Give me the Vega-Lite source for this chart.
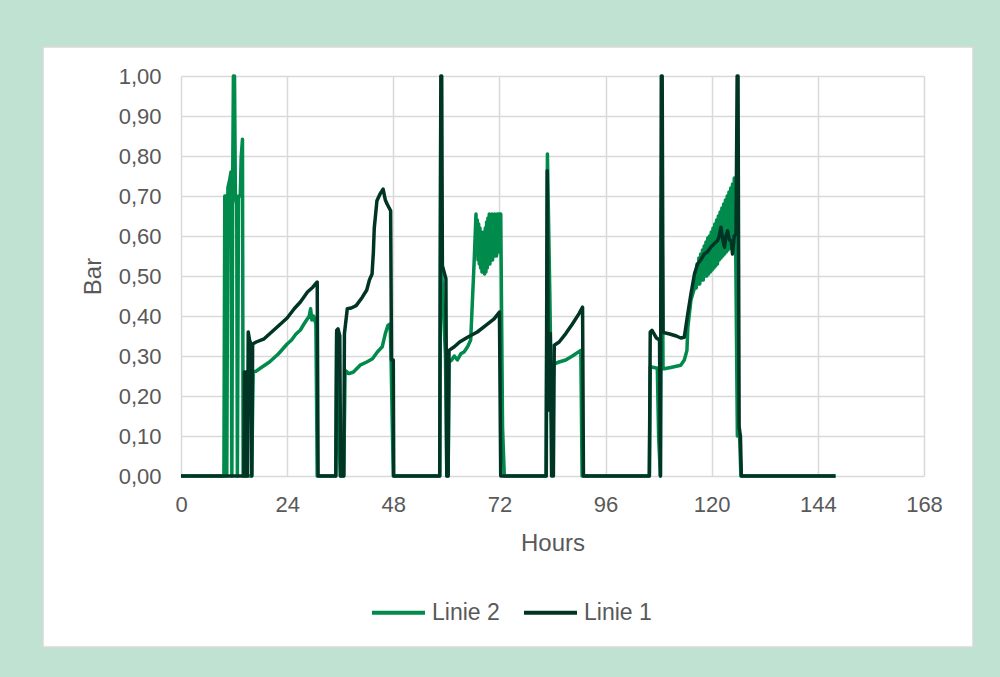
{
  "$schema": "https://vega.github.io/schema/vega-lite/v6.json",
  "width": 930,
  "height": 600,
  "autosize": "none",
  "padding": {"left": 43, "top": 47, "right": 27, "bottom": 30},
  "background": "#C0E2D3",
  "config": {
    "view": {"fill": "#FFFFFF", "stroke": "#D9D9D9", "strokeWidth": 1.5},
    "font": "Liberation Sans",
    "axis": {"labelFont": "Liberation Sans", "titleFont": "Liberation Sans"},
    "legend": {"labelFont": "Liberation Sans"}
  },
  "datasets": {
    "l2": [
      {"s":"Linie 2","h":0,"v":0},{"s":"Linie 2","h":9.7,"v":0},{"s":"Linie 2","h":9.9,"v":0.70},{"s":"Linie 2","h":10.2,"v":0.70},{"s":"Linie 2","h":10.35,"v":0},{"s":"Linie 2","h":10.6,"v":0.72},{"s":"Linie 2","h":11.0,"v":0.74},{"s":"Linie 2","h":11.3,"v":0.76},{"s":"Linie 2","h":11.5,"v":0},{"s":"Linie 2","h":11.7,"v":0.76},{"s":"Linie 2","h":11.85,"v":1.0},{"s":"Linie 2","h":12.1,"v":1.0},{"s":"Linie 2","h":12.3,"v":0.70},{"s":"Linie 2","h":12.6,"v":0.68},{"s":"Linie 2","h":12.75,"v":0},{"s":"Linie 2","h":13.0,"v":0.70},{"s":"Linie 2","h":13.4,"v":0.70},{"s":"Linie 2","h":13.6,"v":0.796},{"s":"Linie 2","h":13.9,"v":0.842},{"s":"Linie 2","h":14.05,"v":0},
      {"s":"Linie 2","h":16.0,"v":0},{"s":"Linie 2","h":16.3,"v":0.26},{"s":"Linie 2","h":17.0,"v":0.262},{"s":"Linie 2","h":18.0,"v":0.27},{"s":"Linie 2","h":20.0,"v":0.285},{"s":"Linie 2","h":22.0,"v":0.305},{"s":"Linie 2","h":24.0,"v":0.33},{"s":"Linie 2","h":25.0,"v":0.34},{"s":"Linie 2","h":26.0,"v":0.355},{"s":"Linie 2","h":27.0,"v":0.365},{"s":"Linie 2","h":27.8,"v":0.38},{"s":"Linie 2","h":28.4,"v":0.39},{"s":"Linie 2","h":29.0,"v":0.40},{"s":"Linie 2","h":29.3,"v":0.418},{"s":"Linie 2","h":29.6,"v":0.39},{"s":"Linie 2","h":30.0,"v":0.40},{"s":"Linie 2","h":30.5,"v":0.38},{"s":"Linie 2","h":30.8,"v":0},
      {"s":"Linie 2","h":35.0,"v":0},{"s":"Linie 2","h":35.2,"v":0.36},{"s":"Linie 2","h":35.7,"v":0.115},{"s":"Linie 2","h":36.0,"v":0},{"s":"Linie 2","h":36.8,"v":0},{"s":"Linie 2","h":37.1,"v":0.264},{"s":"Linie 2","h":38.0,"v":0.256},{"s":"Linie 2","h":39.0,"v":0.26},{"s":"Linie 2","h":40.5,"v":0.277},{"s":"Linie 2","h":42.0,"v":0.285},{"s":"Linie 2","h":43.3,"v":0.293},{"s":"Linie 2","h":44.4,"v":0.31},{"s":"Linie 2","h":45.5,"v":0.323},{"s":"Linie 2","h":46.2,"v":0.356},{"s":"Linie 2","h":46.8,"v":0.377},{"s":"Linie 2","h":47.3,"v":0.38},{"s":"Linie 2","h":47.5,"v":0.29},{"s":"Linie 2","h":48.0,"v":0},
      {"s":"Linie 2","h":58.5,"v":0},{"s":"Linie 2","h":58.75,"v":0.95},{"s":"Linie 2","h":59.0,"v":0.5},{"s":"Linie 2","h":59.8,"v":0.3},{"s":"Linie 2","h":60.1,"v":0},{"s":"Linie 2","h":60.4,"v":0},{"s":"Linie 2","h":60.6,"v":0.285},{"s":"Linie 2","h":61.2,"v":0.29},{"s":"Linie 2","h":61.8,"v":0.30},{"s":"Linie 2","h":62.5,"v":0.29},{"s":"Linie 2","h":63.3,"v":0.306},{"s":"Linie 2","h":64.0,"v":0.31},{"s":"Linie 2","h":64.8,"v":0.323},{"s":"Linie 2","h":65.5,"v":0.34},{"s":"Linie 2","h":65.9,"v":0.44},{"s":"Linie 2","h":66.3,"v":0.54},
      {"s":"Linie 2","h":66.7,"v":0.655},{"s":"Linie 2","h":66.85,"v":0.56},{"s":"Linie 2","h":67.0,"v":0.64},{"s":"Linie 2","h":67.15,"v":0.54},{"s":"Linie 2","h":67.3,"v":0.63},{"s":"Linie 2","h":67.45,"v":0.53},{"s":"Linie 2","h":67.6,"v":0.62},{"s":"Linie 2","h":67.75,"v":0.52},{"s":"Linie 2","h":67.9,"v":0.61},{"s":"Linie 2","h":68.05,"v":0.51},{"s":"Linie 2","h":68.2,"v":0.60},{"s":"Linie 2","h":68.35,"v":0.51},{"s":"Linie 2","h":68.5,"v":0.61},{"s":"Linie 2","h":68.65,"v":0.505},{"s":"Linie 2","h":68.8,"v":0.62},{"s":"Linie 2","h":68.95,"v":0.51},{"s":"Linie 2","h":69.1,"v":0.635},{"s":"Linie 2","h":69.25,"v":0.52},{"s":"Linie 2","h":69.4,"v":0.645},{"s":"Linie 2","h":69.55,"v":0.53},{"s":"Linie 2","h":69.7,"v":0.655},{"s":"Linie 2","h":69.85,"v":0.53},{"s":"Linie 2","h":70.0,"v":0.645},{"s":"Linie 2","h":70.15,"v":0.54},{"s":"Linie 2","h":70.3,"v":0.655},{"s":"Linie 2","h":70.45,"v":0.54},{"s":"Linie 2","h":70.6,"v":0.65},{"s":"Linie 2","h":70.75,"v":0.55},{"s":"Linie 2","h":70.9,"v":0.655},{"s":"Linie 2","h":71.05,"v":0.55},{"s":"Linie 2","h":71.2,"v":0.65},{"s":"Linie 2","h":71.35,"v":0.55},{"s":"Linie 2","h":71.5,"v":0.655},{"s":"Linie 2","h":71.65,"v":0.56},{"s":"Linie 2","h":71.8,"v":0.655},{"s":"Linie 2","h":71.95,"v":0.56},{"s":"Linie 2","h":72.1,"v":0.655},{"s":"Linie 2","h":72.3,"v":0.655},{"s":"Linie 2","h":72.7,"v":0.123},{"s":"Linie 2","h":73.1,"v":0},
      {"s":"Linie 2","h":82.6,"v":0},{"s":"Linie 2","h":82.85,"v":0.805},{"s":"Linie 2","h":83.4,"v":0.45},{"s":"Linie 2","h":83.8,"v":0.14},{"s":"Linie 2","h":84.3,"v":0.28},{"s":"Linie 2","h":85.5,"v":0.285},{"s":"Linie 2","h":87.0,"v":0.29},{"s":"Linie 2","h":88.5,"v":0.30},{"s":"Linie 2","h":90.4,"v":0.314},{"s":"Linie 2","h":90.7,"v":0},
      {"s":"Linie 2","h":105.9,"v":0},{"s":"Linie 2","h":106.1,"v":0.273},{"s":"Linie 2","h":107.5,"v":0.27},{"s":"Linie 2","h":107.7,"v":0.27},{"s":"Linie 2","h":108.0,"v":0.098},{"s":"Linie 2","h":108.4,"v":0},{"s":"Linie 2","h":108.7,"v":0.8},{"s":"Linie 2","h":109.0,"v":0.268},{"s":"Linie 2","h":109.3,"v":0.268},{"s":"Linie 2","h":111.0,"v":0.272},{"s":"Linie 2","h":113.0,"v":0.277},{"s":"Linie 2","h":113.8,"v":0.29},{"s":"Linie 2","h":114.4,"v":0.314},{"s":"Linie 2","h":114.6,"v":0.372},{"s":"Linie 2","h":115.3,"v":0.44},
      {"s":"Linie 2","h":116.1,"v":0.47},{"s":"Linie 2","h":116.3,"v":0.51},{"s":"Linie 2","h":116.5,"v":0.47},{"s":"Linie 2","h":116.7,"v":0.53},{"s":"Linie 2","h":116.9,"v":0.48},{"s":"Linie 2","h":117.1,"v":0.545},{"s":"Linie 2","h":117.3,"v":0.48},{"s":"Linie 2","h":117.5,"v":0.555},{"s":"Linie 2","h":117.7,"v":0.49},{"s":"Linie 2","h":117.9,"v":0.565},{"s":"Linie 2","h":118.1,"v":0.49},{"s":"Linie 2","h":118.3,"v":0.575},{"s":"Linie 2","h":118.5,"v":0.50},{"s":"Linie 2","h":118.7,"v":0.585},{"s":"Linie 2","h":118.9,"v":0.50},{"s":"Linie 2","h":119.1,"v":0.595},{"s":"Linie 2","h":119.3,"v":0.505},{"s":"Linie 2","h":119.5,"v":0.60},{"s":"Linie 2","h":119.7,"v":0.51},{"s":"Linie 2","h":119.9,"v":0.61},{"s":"Linie 2","h":120.1,"v":0.515},{"s":"Linie 2","h":120.3,"v":0.62},{"s":"Linie 2","h":120.5,"v":0.52},{"s":"Linie 2","h":120.7,"v":0.63},{"s":"Linie 2","h":120.9,"v":0.525},{"s":"Linie 2","h":121.1,"v":0.64},{"s":"Linie 2","h":121.3,"v":0.53},{"s":"Linie 2","h":121.5,"v":0.65},{"s":"Linie 2","h":121.7,"v":0.54},{"s":"Linie 2","h":121.9,"v":0.66},{"s":"Linie 2","h":122.1,"v":0.545},{"s":"Linie 2","h":122.3,"v":0.67},{"s":"Linie 2","h":122.5,"v":0.55},{"s":"Linie 2","h":122.7,"v":0.68},{"s":"Linie 2","h":122.9,"v":0.555},{"s":"Linie 2","h":123.1,"v":0.69},{"s":"Linie 2","h":123.3,"v":0.56},{"s":"Linie 2","h":123.5,"v":0.70},{"s":"Linie 2","h":123.7,"v":0.565},{"s":"Linie 2","h":123.9,"v":0.71},{"s":"Linie 2","h":124.1,"v":0.57},{"s":"Linie 2","h":124.3,"v":0.72},{"s":"Linie 2","h":124.5,"v":0.57},{"s":"Linie 2","h":124.7,"v":0.73},{"s":"Linie 2","h":124.9,"v":0.58},{"s":"Linie 2","h":125.1,"v":0.745},{"s":"Linie 2","h":125.4,"v":0.6},{"s":"Linie 2","h":125.8,"v":0.1},{"s":"Linie 2","h":126.3,"v":0.1},{"s":"Linie 2","h":126.6,"v":0},{"s":"Linie 2","h":148,"v":0}
    ],
    "l1": [
      {"s":"Linie 1","h":0,"v":0},{"s":"Linie 1","h":14.2,"v":0},{"s":"Linie 1","h":14.35,"v":0.26},{"s":"Linie 1","h":14.5,"v":0},{"s":"Linie 1","h":14.7,"v":0.26},{"s":"Linie 1","h":14.95,"v":0.26},{"s":"Linie 1","h":15.05,"v":0},{"s":"Linie 1","h":15.2,"v":0.36},{"s":"Linie 1","h":15.5,"v":0.34},{"s":"Linie 1","h":15.8,"v":0.33},{"s":"Linie 1","h":16.0,"v":0},{"s":"Linie 1","h":16.2,"v":0.33},{"s":"Linie 1","h":17.0,"v":0.335},{"s":"Linie 1","h":18.8,"v":0.343},{"s":"Linie 1","h":20.5,"v":0.36},{"s":"Linie 1","h":22.5,"v":0.38},{"s":"Linie 1","h":24.0,"v":0.395},{"s":"Linie 1","h":25.6,"v":0.418},{"s":"Linie 1","h":27.0,"v":0.435},{"s":"Linie 1","h":28.6,"v":0.46},{"s":"Linie 1","h":29.8,"v":0.472},{"s":"Linie 1","h":30.8,"v":0.485},{"s":"Linie 1","h":31.0,"v":0},
      {"s":"Linie 1","h":35.0,"v":0},{"s":"Linie 1","h":35.2,"v":0.364},{"s":"Linie 1","h":35.5,"v":0.368},{"s":"Linie 1","h":35.9,"v":0.35},{"s":"Linie 1","h":36.1,"v":0},{"s":"Linie 1","h":36.8,"v":0},{"s":"Linie 1","h":36.95,"v":0.356},{"s":"Linie 1","h":37.6,"v":0.418},{"s":"Linie 1","h":38.5,"v":0.42},{"s":"Linie 1","h":39.6,"v":0.426},{"s":"Linie 1","h":41.0,"v":0.447},{"s":"Linie 1","h":42.0,"v":0.465},{"s":"Linie 1","h":42.6,"v":0.49},{"s":"Linie 1","h":43.2,"v":0.505},{"s":"Linie 1","h":43.5,"v":0.56},{"s":"Linie 1","h":43.7,"v":0.62},{"s":"Linie 1","h":44.3,"v":0.688},{"s":"Linie 1","h":45.0,"v":0.705},{"s":"Linie 1","h":45.7,"v":0.717},{"s":"Linie 1","h":46.2,"v":0.69},{"s":"Linie 1","h":46.6,"v":0.68},{"s":"Linie 1","h":47.4,"v":0.663},{"s":"Linie 1","h":47.6,"v":0.29},{"s":"Linie 1","h":48.0,"v":0.29},{"s":"Linie 1","h":48.1,"v":0},
      {"s":"Linie 1","h":58.5,"v":0},{"s":"Linie 1","h":58.75,"v":1.0},{"s":"Linie 1","h":58.95,"v":1.0},{"s":"Linie 1","h":59.1,"v":0.526},{"s":"Linie 1","h":59.9,"v":0.493},{"s":"Linie 1","h":60.1,"v":0},{"s":"Linie 1","h":60.4,"v":0},{"s":"Linie 1","h":60.6,"v":0.314},{"s":"Linie 1","h":61.8,"v":0.323},{"s":"Linie 1","h":63.0,"v":0.335},{"s":"Linie 1","h":64.8,"v":0.347},{"s":"Linie 1","h":67.0,"v":0.36},{"s":"Linie 1","h":69.0,"v":0.377},{"s":"Linie 1","h":70.8,"v":0.393},{"s":"Linie 1","h":72.0,"v":0.41},{"s":"Linie 1","h":72.3,"v":0},
      {"s":"Linie 1","h":82.55,"v":0},{"s":"Linie 1","h":82.8,"v":0.763},{"s":"Linie 1","h":83.1,"v":0.165},{"s":"Linie 1","h":83.5,"v":0.356},{"s":"Linie 1","h":83.8,"v":0},{"s":"Linie 1","h":84.2,"v":0},{"s":"Linie 1","h":84.4,"v":0.327},{"s":"Linie 1","h":85.5,"v":0.335},{"s":"Linie 1","h":87.0,"v":0.356},{"s":"Linie 1","h":88.5,"v":0.38},{"s":"Linie 1","h":90.0,"v":0.406},{"s":"Linie 1","h":90.8,"v":0.422},{"s":"Linie 1","h":91.0,"v":0},
      {"s":"Linie 1","h":105.9,"v":0},{"s":"Linie 1","h":106.1,"v":0.36},{"s":"Linie 1","h":106.5,"v":0.364},{"s":"Linie 1","h":107.5,"v":0.345},{"s":"Linie 1","h":108.2,"v":0.34},{"s":"Linie 1","h":108.4,"v":0},{"s":"Linie 1","h":108.6,"v":1.0},{"s":"Linie 1","h":108.8,"v":1.0},{"s":"Linie 1","h":109.0,"v":0.36},{"s":"Linie 1","h":109.3,"v":0.358},{"s":"Linie 1","h":110.5,"v":0.355},{"s":"Linie 1","h":112.0,"v":0.35},{"s":"Linie 1","h":113.0,"v":0.345},{"s":"Linie 1","h":113.8,"v":0.347},{"s":"Linie 1","h":114.6,"v":0.406},{"s":"Linie 1","h":115.3,"v":0.455},{"s":"Linie 1","h":116.1,"v":0.505},{"s":"Linie 1","h":116.8,"v":0.53},{"s":"Linie 1","h":117.5,"v":0.54},{"s":"Linie 1","h":118.3,"v":0.555},{"s":"Linie 1","h":119.0,"v":0.56},{"s":"Linie 1","h":119.8,"v":0.572},{"s":"Linie 1","h":120.5,"v":0.58},{"s":"Linie 1","h":121.3,"v":0.588},{"s":"Linie 1","h":121.7,"v":0.6},{"s":"Linie 1","h":122.1,"v":0.622},{"s":"Linie 1","h":122.5,"v":0.59},{"s":"Linie 1","h":122.9,"v":0.572},{"s":"Linie 1","h":123.2,"v":0.6},{"s":"Linie 1","h":123.6,"v":0.613},{"s":"Linie 1","h":124.0,"v":0.59},{"s":"Linie 1","h":124.4,"v":0.588},{"s":"Linie 1","h":124.7,"v":0.555},{"s":"Linie 1","h":125.1,"v":0.6},{"s":"Linie 1","h":125.5,"v":0.605},{"s":"Linie 1","h":125.75,"v":1.0},{"s":"Linie 1","h":125.95,"v":1.0},{"s":"Linie 1","h":126.2,"v":0.123},{"s":"Linie 1","h":126.5,"v":0.098},{"s":"Linie 1","h":126.7,"v":0},{"s":"Linie 1","h":148,"v":0}
    ]
  },
  "encoding": {
    "y": {
      "field": "v", "type": "quantitative",
      "scale": {"domain": [0, 1], "range": [429, 29], "nice": false},
      "axis": {
        "values": [0, 0.1, 0.2, 0.3, 0.4, 0.5, 0.6, 0.7, 0.8, 0.9, 1.0],
        "labelExpr": "replace(format(datum.value, '.2f'), '.', ',')",
        "title": "Bar", "offset": -138, "domain": false, "ticks": false,
        "labelPadding": 20, "titlePadding": 13, "labelFlush": false,
        "grid": true, "gridColor": "#D9D9D9", "gridWidth": 1.5,
        "labelFontSize": 22, "titleFontSize": 24, "labelColor": "#595959", "titleColor": "#595959", "titleFontWeight": "normal"
      }
    },
    "color": {
      "field": "s", "type": "nominal",
      "scale": {"domain": ["Linie 2", "Linie 1"], "range": ["#008A4C", "#003526"]},
      "legend": {
        "orient": "none", "legendX": 327, "legendY": 537, "direction": "horizontal",
        "title": null, "symbolType": "stroke", "symbolSize": 2809, "symbolStrokeWidth": 4,
        "labelFontSize": 23, "labelColor": "#595959", "labelOffset": 5, "columnPadding": 16
      }
    }
  },
  "layer": [
    {
      "data": {"name": "l2"},
      "mark": {"type": "line", "strokeWidth": 3.5, "strokeJoin": "round"},
      "encoding": {
        "x": {
          "field": "h", "type": "quantitative",
          "scale": {"domain": [0, 168], "range": [138, 881], "nice": false, "zero": false},
          "axis": {
            "orient": "top", "values": [0, 24, 48, 72, 96, 120, 144, 168],
            "title": null, "labels": false, "domain": false, "ticks": false,
            "grid": true, "gridColor": "#D9D9D9", "gridWidth": 1.5
          }
        }
      }
    },
    {
      "data": {"name": "l1"},
      "mark": {"type": "line", "strokeWidth": 3.5, "strokeJoin": "round"},
      "encoding": {
        "x": {
          "field": "h", "type": "quantitative",
          "scale": {"domain": [0, 168], "range": [138, 881], "nice": false, "zero": false},
          "axis": {
            "orient": "bottom", "values": [0, 24, 48, 72, 96, 120, 144, 168],
            "title": "Hours", "offset": -171, "domain": false, "ticks": false, "grid": false,
            "labelPadding": 18, "titlePadding": 16, "labelFlush": false,
            "labelFontSize": 22, "titleFontSize": 24, "labelColor": "#595959", "titleColor": "#595959", "titleFontWeight": "normal"
          }
        }
      }
    }
  ],
  "resolve": {"axis": {"x": "independent"}}
}
